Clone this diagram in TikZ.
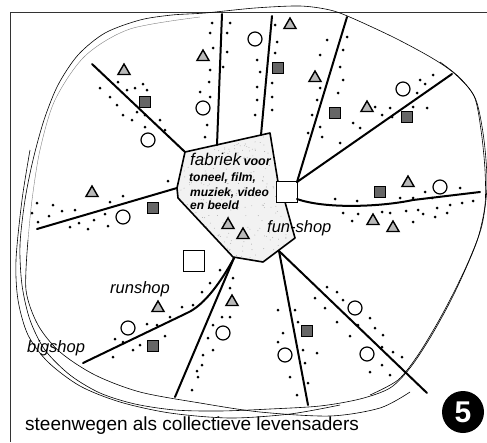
\documentclass[tikz,border=0pt]{standalone}
\usepackage{fontspec}
\setmainfont{Liberation Sans}
\usetikzlibrary{shapes.geometric}
\begin{document}
\begin{tikzpicture}[x=1pt,y=-1pt,
  ray/.style={line width=2pt, line cap=round},
  strand/.style={line width=0.6pt},
  tri/.style={regular polygon, regular polygon sides=3, draw, fill=gray!55, line width=1.4pt, minimum size=14pt, inner sep=0pt},
  sqs/.style={rectangle, draw, fill=black!60, line width=0.9pt, minimum size=11pt, inner sep=0pt},
  circ/.style={circle, draw, fill=white, line width=1.2pt, minimum size=14pt, inner sep=0pt},
  dotn/.style={circle, fill=black, minimum size=3pt, inner sep=0pt},
  bigsq/.style={rectangle, draw, fill=white, line width=1.5pt, minimum size=21pt, inner sep=0pt},
  lab/.style={font=\itshape\fontsize{16.5}{18}\selectfont, inner sep=0pt, anchor=base west},
  fab/.style={font=\bfseries\itshape\fontsize{12}{14}\selectfont, inner sep=0pt, anchor=base west}]
\useasboundingbox (0,0) rectangle (487,442);
\fill[white] (0,0) rectangle (487,442);
% frame
\coordinate (fbl) at (10,442); \coordinate (ftl) at (10,12); \coordinate (ftr) at (487,12);
\draw[line width=1pt, black!80] (fbl) -- (ftl) -- (ftr);
% outer boundary
\draw[strand] plot[smooth cycle] coordinates {(205,13) (255,8) (300,6) (330,10) (352,18) (395,38) (432,58) (455,74) (474,96) (481,130) (485,170) (485,205) (478,238) (466,268) (450,302) (430,338) (410,368) (390,388) (360,399) (320,406) (270,409) (220,411) (175,410) (135,404) (100,393) (70,375) (45,350) (30,320) (22,285) (20,245) (25,200) (33,160) (44,120) (58,85) (78,55) (105,33) (140,20) (172,15)};
\draw[strand] plot[smooth] coordinates {(440,62) (460,78) (476,100) (484,140) (487,185) (482,225) (470,258) (455,290) (438,322) (418,355) (398,380) (370,395)};
\draw[strand] plot[smooth] coordinates {(30,150) (22,200) (16,260) (18,300) (28,335) (48,362) (80,386) (120,402) (170,413) (230,418) (290,414) (340,405)};
\draw[strand] plot[smooth] coordinates {(28,240) (26,290) (38,325) (60,352) (95,375) (140,392) (200,403) (260,412) (330,416) (380,408) (410,392)};
\draw[line width=0.4pt, gray] plot[smooth] coordinates {(200,17) (130,29) (85,56) (55,100) (40,150) (32,200) (28,240)};
% central polygon
\coordinate (p1) at (185,152); \coordinate (p2) at (270,133); \coordinate (p3) at (278,182);
\coordinate (p4) at (285,202); \coordinate (p5) at (295,238); \coordinate (p6) at (263,262);
\coordinate (p7) at (233,257); \coordinate (p8) at (178,198); \coordinate (p9) at (177,188);
\begin{scope}
\clip (p1) -- (p2) -- (p3) -- (p4) -- (p5) -- (p6) -- (p7) -- (p8) -- (p9) -- cycle;
\fill[gray!10] (170,125) rectangle (300,270);
\pgfmathsetseed{7}
\foreach \k in {1,...,420} {
  \pgfmathsetmacro\rx{170+130*rnd}
  \pgfmathsetmacro\ry{128+140*rnd}
  \fill[gray!70] (\rx,\ry) circle (0.45pt);
}
\end{scope}
\draw[line width=1.6pt, line join=round] (p1) -- (p2) -- (p3) -- (p4) -- (p5) -- (p6) -- (p7) -- (p8) -- (p9) -- cycle;
% squares
\node[bigsq] (fun) at (287,192) {};
\node[bigsq] (run) at (194,261) {};
% ray anchors
\coordinate (a2) at (217,145); \coordinate (a3) at (261,135);
\coordinate (a4) at (297,182); \coordinate (a6) at (297,199);
\coordinate (a7) at (279,251); \coordinate (a9) at (234,258);
\coordinate (e1) at (92,64); \coordinate (e2) at (222,14); \coordinate (e3) at (272,16);
\coordinate (e4) at (347,17); \coordinate (e5) at (452,74); \coordinate (e6) at (480,192);
\coordinate (e7) at (427,393); \coordinate (e8) at (308,405); \coordinate (e9) at (175,397);
\coordinate (e10) at (83,363); \coordinate (e11) at (37,229);
\draw[ray] (p1) -- (e1);
\draw[ray] (a2) -- (e2);
\draw[ray] (a3) -- (e3);
\draw[ray] (a4) -- (e4);
\draw[ray] (a4) -- (e5);
\draw[ray] (a6) .. controls (325,209) and (380,207) .. (413,200) -- (e6);
\draw[ray] (a7) -- (e7);
\draw[ray] (a7) -- (e8);
\draw[ray] (a9) -- (e9);
\draw[ray] (a9) .. controls (222,280) and (205,305) .. (187,313) -- (e10);
\draw[ray] (p9) -- (e11);
% triangles
\foreach \x/\y [count=\i] in {124/71, 203/57, 290/25, 315/78, 367/108, 408/183, 373/221, 393/228, 92/193, 228/225, 243/235, 158/308, 232/302}
  \node[tri] (t\i) at (\x,\y) {};
% small dark squares
\foreach \x/\y [count=\i] in {145/102, 278/68, 335/113, 407/117, 380/192, 153/208, 153/346, 307/331}
  \node[sqs] (s\i) at (\x,\y) {};
% circles
\foreach \x/\y [count=\i] in {148/140, 203/108, 255/39, 403/89, 440/187, 123/217, 128/328, 223/333, 355/308, 285/355, 367/354}
  \node[circ] (c\i) at (\x,\y) {};
% dots
\foreach \x/\y [count=\i] in {100/88, 110/97, 118/82, 127/90, 135/88, 143/84, 147/90, 117/105, 123/115, 132/120, 137/112, 145/115, 160/120, 165/130, 145/127,
  212/23, 210/33, 213/48, 210/70, 209/82, 200/92, 210/97, 207/125, 205/137,
  230/23, 227/33, 227/52, 223/67,
  257/60, 260/72, 257/87, 257/100, 255/115,
  275/25, 277/42, 275/53, 272/83, 272/97, 272/110,
  327/40, 320/55, 320/88, 317/100, 312/115, 308/133, 322/137, 320/127,
  347/37, 343/50, 340/67, 343/80, 338/93,
  340/143, 353/123, 360/128, 375/107, 390/108, 382/115, 413/107, 420/80, 433/75, 425/84, 427/108, 417/93, 392/117,
  335/199, 357/201, 400/198, 413/198, 425/192, 432/198, 460/188,
  343/213, 352/221, 358/214, 382/212, 390/213, 406/211, 413/222, 418/210, 423/214, 437/208, 435/217, 447/213, 450/205, 462/203, 473/201,
  53/205, 62/211, 75/210, 49/216, 79/223, 70/227, 88/229, 94/220, 108/226, 105/214, 110/202, 123/196, 168/181, 37/203, 32/213, 38/222,
  220/270, 210/283, 202/292, 193/305, 182/307, 170/317, 147/324, 157/325, 165/336, 115/339, 123/342, 140/345, 133/350, 113/357,
  233/278, 230/288, 222/317, 230/317, 213/325, 208/338, 213/350, 203/355, 202/365, 197/371, 198/377, 192/390,
  278/310, 295/310, 298/322, 283/333, 278/342, 303/350, 317/353, 305/363, 290/377, 308/383, 297/395,
  327/287, 337/292, 315/298, 325/308, 343/300, 337/322, 350/336, 358/325, 370/318, 375/328, 383/335, 382/347, 393/352, 402/357, 382/365, 370/372, 390/375}
  \node[dotn] (d\i) at (\x,\y) {};
% texts
\node[font=\itshape\fontsize{17}{19}\selectfont, inner sep=0pt, anchor=base west] (fabriek) at (190,165) {fabriek};
\node[fab, font=\bfseries\itshape\fontsize{12.5}{14}\selectfont] (voor) at (fabriek.base east) [anchor=base west, xshift=2pt] {voor};
\node[fab] (l2) at (189,181) {toneel, film,};
\node[fab] (l3) at (190,196) {muziek, video};
\node[fab] (l4) at (190,209) {en beeld};
\node[lab] (funl) at (267,232) {fun-shop};
\node[lab] (runl) at (110,293) {runshop};
\node[lab] (bigl) at (27,352) {bigshop};
\node[font=\fontsize{19}{21}\selectfont, inner sep=0pt, anchor=base west] (cap) at (25,430) {steenwegen als collectieve levensaders};
\node[circle, fill=black, minimum size=42pt, inner sep=0pt, text=white, font=\bfseries\fontsize{30}{30}\selectfont] (num) at (463,412) {5};
\end{tikzpicture}
\end{document}
